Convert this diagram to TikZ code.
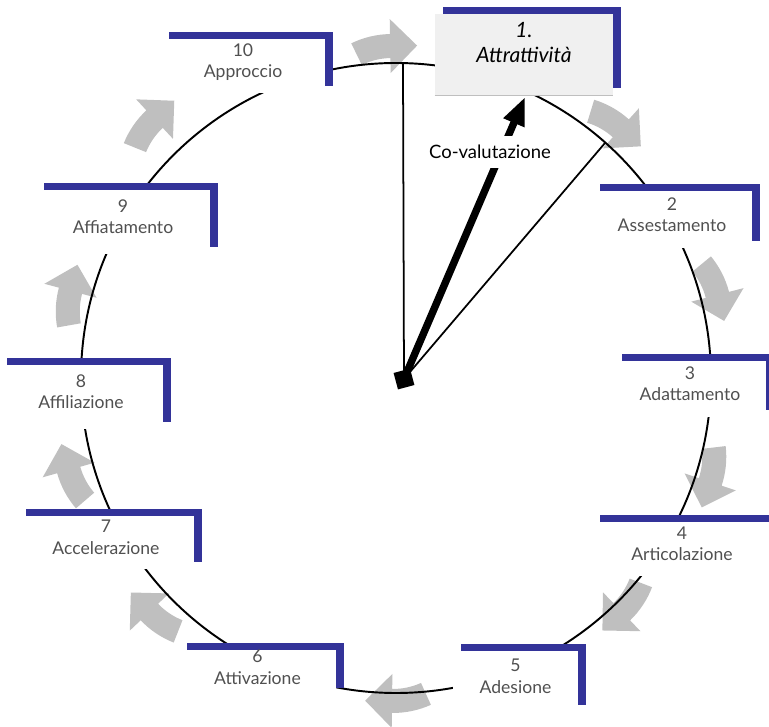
\documentclass[tikz,border=0pt]{standalone}
\usepackage{fontspec}
\setmainfont{Lato}
\usetikzlibrary{arrows.meta,shadows}

\definecolor{stageblue}{RGB}{51,51,153}
\definecolor{arrowgray}{RGB}{191,191,191}
\definecolor{labelgray}{RGB}{80,80,80}
\definecolor{boxgray}{RGB}{240,240,240}

\newcommand{\stagetext}[2]{#1\\#2\\[-6pt]\mbox{}}
\newcommand{\turnarrow}[2]{%
    \fill[arrowgray, shift={({#1}:{#2-80})}] ({#1+25}:92) arc[start angle={#1+25}, end angle={#1}, radius=92]
        -- ({#1}:107) -- ({#1-18.6}:84.4) -- ({#1}:53) -- ({#1}:68)
        arc[start angle={#1}, end angle={#1+25}, radius=68] -- cycle;}

\tikzset{
    stagebox/.style={fill=white, align=center, inner sep=0pt, text=labelgray,
        font=\fontsize{10}{12}\selectfont,
        general shadow={fill=stageblue, shadow xshift=0.16cm, shadow yshift=0.14cm}},
    ring/.style={line width=1.1pt},
    thinhand/.style={line width=1pt},
    hand/.style={line width=4.2pt, -{Triangle[width=12pt,length=16pt]}},
    pivot/.style={fill=black, minimum size=0.34cm, inner sep=0pt, rotate=15},
    covtext/.style={fill=white, inner xsep=1pt, inner ysep=5pt, font=\fontsize{10.5}{12}\selectfont},
    boxedge/.style={draw=black!25, line width=0.8pt}
}

\begin{document}
\begin{tikzpicture}[x=0.02cm, y=0.02cm]
    \useasboundingbox (-396,-349) rectangle (373,378);
    \clip (-396,-349) rectangle (373,378);

    \turnarrow{91}{332}
    \turnarrow{48}{336}
    \turnarrow{14.5}{332}
    \turnarrow{-18.3}{331}
    \turnarrow{-46}{325}
    \turnarrow{-90.7}{323}
    \turnarrow{-136.5}{340}
    \turnarrow{-164.3}{340}
    \turnarrow{165}{337}
    \turnarrow{133}{354}

    \draw[ring] (0,0) circle[radius=315];

    \coordinate (top) at (7,315);
    \coordinate (rim) at (209,235);
    \coordinate (tip) at (129,281);
    \node[pivot] (piv) at (8,-1) {};
    \draw[thinhand] (piv.center) -- (top);
    \draw[thinhand] (piv.center) -- (rim);

    \node[stagebox, fill=boxgray, text=black, font=\fontsize{12}{14}\selectfont\itshape,
        minimum width=3.56cm, minimum height=1.62cm] (att) at (128,323.5) {1.\\Attrattività\\\mbox{}};
    \draw[boxedge] (att.south west) -- (att.south east);

    \node[stagebox, minimum width=3.20cm, minimum height=1.14cm] (ass) at (276,158.5) {\stagetext{2}{Assestamento}};
    \node[stagebox, minimum width=3.04cm, minimum height=1.12cm] (ada) at (294,-11) {\stagetext{3}{Adattamento}};
    \node[stagebox, minimum width=3.60cm, minimum height=1.08cm] (art) at (286,-171) {\stagetext{4}{Articolazione}};
    \node[stagebox, minimum width=2.50cm, minimum height=1.22cm] (ade) at (119.5,-303.5) {\stagetext{5}{Adesione}};
    \node[stagebox, minimum width=3.14cm, minimum height=0.86cm] (atv) at (-138.5,-294.5) {\stagetext{6}{Attivazione}};
    \node[stagebox, minimum width=3.52cm, minimum height=1.06cm] (acc) at (-290,-164.5) {\stagetext{7}{Accelerazione}};
    \node[stagebox, minimum width=3.28cm, minimum height=1.28cm] (afl) at (-315,-19) {\stagetext{8}{Affiliazione}};
    \node[stagebox, minimum width=3.48cm, minimum height=1.28cm] (aft) at (-273,156) {\stagetext{9}{Affiatamento}};
    \node[stagebox, minimum width=3.28cm, minimum height=1.08cm] (app) at (-153,312) {\stagetext{10}{Approccio}};

    \draw[hand] (piv.center) -- (tip);
    \node[covtext] (cov) at (94,226) {Co-valutazione};
\end{tikzpicture}
\end{document}
